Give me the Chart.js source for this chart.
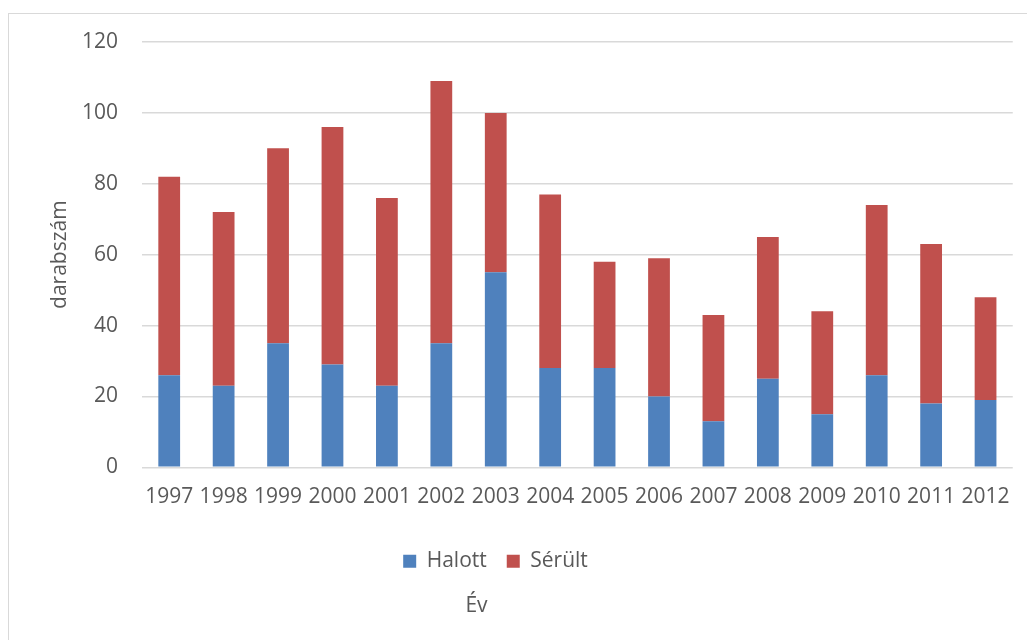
<!DOCTYPE html>
<html lang="hu">
<head>
<meta charset="utf-8">
<title>Halott és sérült – évenként</title>
<script src="https://cdn.jsdelivr.net/npm/chart.js@4/dist/chart.umd.min.js"></script>
<style>
  html, body { margin: 0; padding: 0; background: #ffffff; }
  #frame {
    position: absolute; left: 8px; top: 13px; right: 0; bottom: 0;
    border-left: 1px solid #d9d9d9; border-top: 1px solid #d9d9d9;
  }
  #wrap { position: absolute; left: 0; top: 0; width: 1027px; height: 640px; }
</style>
</head>
<body>
<div id="frame"></div>
<div id="wrap"><canvas id="chart" width="1027" height="640"></canvas></div>
<script>
// Years on the category axis
const years = ['1997','1998','1999','2000','2001','2002','2003','2004',
               '2005','2006','2007','2008','2009','2010','2011','2012'];
// Deaths per year (bottom segment)
const halott = [26, 23, 35, 29, 23, 35, 55, 28, 28, 20, 13, 25, 15, 26, 18, 19];
// Injuries per year (stacked on top)
const serult = [56, 49, 55, 67, 53, 74, 45, 49, 30, 39, 30, 40, 29, 48, 45, 29];
// Value axis ticks
const yTicks = [0, 20, 40, 60, 80, 100, 120];

const FONT = "'Open Sans', 'Liberation Sans', sans-serif";
const TEXT = '#595959';
const SIZE = 21;

// Nudges the legend and the "Év" caption left of the canvas centre
const shiftBoxes = {
  id: 'shiftBoxes',
  afterLayout(chart) {
    const lg = chart.legend;
    if (lg) { lg.left -= 11; lg.right -= 11; }
    const tt = chart.titleBlock;
    if (tt) { tt.left -= 30; tt.right -= 30; }
  }
};

new Chart(document.getElementById('chart'), {
  type: 'bar',
  data: {
    labels: years,
    datasets: [
      { label: 'Halott', data: halott, backgroundColor: '#4f81bd', borderWidth: 0 },
      { label: 'Sérült', data: serult, backgroundColor: '#c0504d', borderWidth: 0 }
    ]
  },
  options: {
    responsive: false,
    animation: false,
    layout: { padding: { left: 0, top: 42, right: 14, bottom: 21 } },
    datasets: { bar: { barPercentage: 0.4, categoryPercentage: 1.0 } },
    scales: {
      x: {
        stacked: true,
        grid: { display: false, drawTicks: false },
        border: { display: false },
        ticks: { color: TEXT, font: { family: FONT, size: SIZE }, padding: 17, maxRotation: 0, autoSkip: false },
        afterFit(s) { s.height = 63.5; }
      },
      y: {
        stacked: true,
        min: 0, max: 120,
        afterBuildTicks(s) { s.ticks = yTicks.map(v => ({ value: v })); },
        grid: { color: '#d9d9d9', lineWidth: 1.4, drawTicks: false },
        border: { display: false },
        ticks: { color: TEXT, font: { family: FONT, size: SIZE }, padding: 24 },
        title: { display: true, text: 'darabszám', color: TEXT, font: { family: FONT, size: SIZE }, padding: { top: 47, bottom: 0 } },
        afterFit(s) { s.width = 142; }
      }
    },
    plugins: {
      legend: {
        position: 'bottom',
        labels: { color: TEXT, font: { family: FONT, size: SIZE }, boxWidth: 13, boxHeight: 13, padding: 20 }
      },
      title: {
        display: true, position: 'bottom', text: 'Év', color: TEXT,
        font: { family: FONT, size: SIZE, weight: 'normal' }, padding: { top: 12, bottom: 0 }
      },
      tooltip: { enabled: false }
    }
  },
  plugins: [shiftBoxes]
});
</script>
</body>
</html>
